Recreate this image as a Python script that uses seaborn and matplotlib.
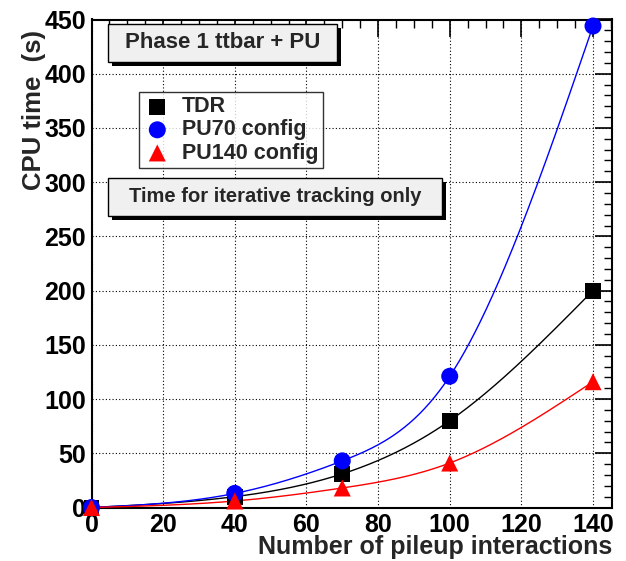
import numpy as np
import pandas as pd
import matplotlib
matplotlib.use("Agg")
import matplotlib.pyplot as plt
from matplotlib.ticker import MultipleLocator
from matplotlib.patches import FancyBboxPatch
import seaborn as sns

# Measured CPU time (s) versus pileup
pileup = [0, 40, 70, 100, 140]
tdr = [0, 10, 31, 80, 200]
pu70 = [0, 13, 43, 121, 444]
pu140 = [0, 6, 18, 41, 116]

series_names = ["TDR", "PU70 config", "PU140 config"]
series_values = [tdr, pu70, pu140]
colors = ["black", "blue", "red"]
markers = ["s", "o", "^"]


def natural_spline(x, y, xs):
    """Natural cubic spline through (x, y), evaluated at xs."""
    x = np.asarray(x, float)
    y = np.asarray(y, float)
    n = len(x)
    h = np.diff(x)
    A = np.zeros((n, n))
    r = np.zeros(n)
    A[0, 0] = A[-1, -1] = 1
    for i in range(1, n - 1):
        A[i, i - 1] = h[i - 1]
        A[i, i] = 2 * (h[i - 1] + h[i])
        A[i, i + 1] = h[i]
        r[i] = 3 * ((y[i + 1] - y[i]) / h[i] - (y[i] - y[i - 1]) / h[i - 1])
    c = np.linalg.solve(A, r)
    b = np.zeros(n - 1)
    d = np.zeros(n - 1)
    for i in range(n - 1):
        b[i] = (y[i + 1] - y[i]) / h[i] - h[i] * (2 * c[i] + c[i + 1]) / 3
        d[i] = (c[i + 1] - c[i]) / (3 * h[i])
    idx = np.clip(np.searchsorted(x, xs) - 1, 0, n - 2)
    t = xs - x[idx]
    return y[idx] + b[idx] * t + c[idx] * t ** 2 + d[idx] * t ** 3


points = pd.DataFrame(
    [(p, v, name) for name, vals in zip(series_names, series_values) for p, v in zip(pileup, vals)],
    columns=["pileup", "cpu", "series"],
)
xs = np.linspace(0, 140, 400)
curves = pd.DataFrame(
    [(xx, yy, name)
     for name, vals in zip(series_names, series_values)
     for xx, yy in zip(xs, natural_spline(pileup, vals, xs))],
    columns=["pileup", "cpu", "series"],
)

sns.set_style("white")
plt.rcParams["font.family"] = ["Liberation Sans", "DejaVu Sans"]
plt.rcParams["font.weight"] = "bold"

W, H = 626, 561
AX_L, AX_R, AX_T, AX_B = 91.5, 612, 19.5, 507.5
fig = plt.figure(figsize=(W / 100, H / 100), dpi=100)
ax = fig.add_axes([AX_L / W, 1 - AX_B / H, (AX_R - AX_L) / W, (AX_B - AX_T) / H])
ax_w, ax_h = AX_R - AX_L, AX_B - AX_T

palette = dict(zip(series_names, colors))
sns.lineplot(data=curves, x="pileup", y="cpu", hue="series", palette=palette,
             linewidth=1.0, legend=False, ax=ax, zorder=3)
for name, m in zip(series_names, markers):
    sub = points[points["series"] == name]
    sns.scatterplot(data=sub, x="pileup", y="cpu", color=palette[name], marker=m,
                    s=150 if m != "s" else 130, edgecolor="none", ax=ax, zorder=4,
                    clip_on=False, label=name, legend=False)

ax.set_xlim(0, 145.3)
ax.set_ylim(0, 450)
ax.xaxis.set_major_locator(MultipleLocator(20))
ax.xaxis.set_minor_locator(MultipleLocator(5))
ax.yaxis.set_major_locator(MultipleLocator(50))
ax.yaxis.set_minor_locator(MultipleLocator(10))
ax.grid(True, which="major", linestyle=(0, (1, 2)), color="black", linewidth=0.8)
ax.tick_params(which="both", direction="in", top=True, right=True, colors="black")
ax.tick_params(which="major", length=12, width=1.2, labelsize=18, pad=4)
ax.tick_params(which="minor", length=6, width=1.0)
for lab in ax.get_xticklabels() + ax.get_yticklabels():
    lab.set_fontweight("bold")
for sp in ax.spines.values():
    sp.set_linewidth(1.5)
    sp.set_color("black")

ax.set_xlabel("Number of pileup interactions", fontsize=18, fontweight="bold")
ax.xaxis.set_label_coords(1.0, -(554 - AX_B) / ax_h)
ax.xaxis.label.set_ha("right")
ax.xaxis.label.set_va("baseline")
ax.set_ylabel("CPU time  (s)", fontsize=18.5, fontweight="bold")
ax.yaxis.set_label_coords(-(AX_L - 22) / ax_w, 1 - (30 - AX_T) / ax_h)
ax.yaxis.label.set_va("top")
ax.yaxis.label.set_ha("right")


def boxed_text(x0, y0, x1, y1, text, size):
    """Shadowed label box, pixel coordinates from the top-left corner."""
    def fx(px):
        return px / W
    def fy(py):
        return 1 - py / H
    shadow = FancyBboxPatch((fx(x0 + 4), fy(y1 + 4)), fx(x1 - x0), fy(y0) - fy(y1),
                            boxstyle="square,pad=0", transform=fig.transFigure,
                            facecolor="black", edgecolor="none", zorder=5)
    box = FancyBboxPatch((fx(x0), fy(y1)), fx(x1 - x0), fy(y0) - fy(y1),
                         boxstyle="square,pad=0", transform=fig.transFigure,
                         facecolor="#f0f0f0", edgecolor="black", linewidth=1.0, zorder=6)
    fig.patches.extend([shadow, box])
    fig.text(fx((x0 + x1) / 2), fy((y0 + y1) / 2), text, ha="center", va="center",
             fontsize=size, fontweight="bold", zorder=7)


boxed_text(108, 24, 337, 62, "Phase 1 ttbar + PU", 16)
boxed_text(108, 178, 442, 216, "Time for iterative tracking only", 14.5)

leg = ax.legend(loc="upper left",
                bbox_to_anchor=((139 - AX_L) / ax_w, 1 - (92 - AX_T) / ax_h),
                frameon=True, fancybox=False, fontsize=15.5, handletextpad=0.5,
                borderpad=0.2, labelspacing=0.1, handlelength=1.3, borderaxespad=0)
leg.get_frame().set_edgecolor("black")
leg.get_frame().set_linewidth(1.0)
leg.set_zorder(10)
for t in leg.get_texts():
    t.set_fontweight("bold")

fig.savefig("out.png", dpi=100, facecolor="white")
